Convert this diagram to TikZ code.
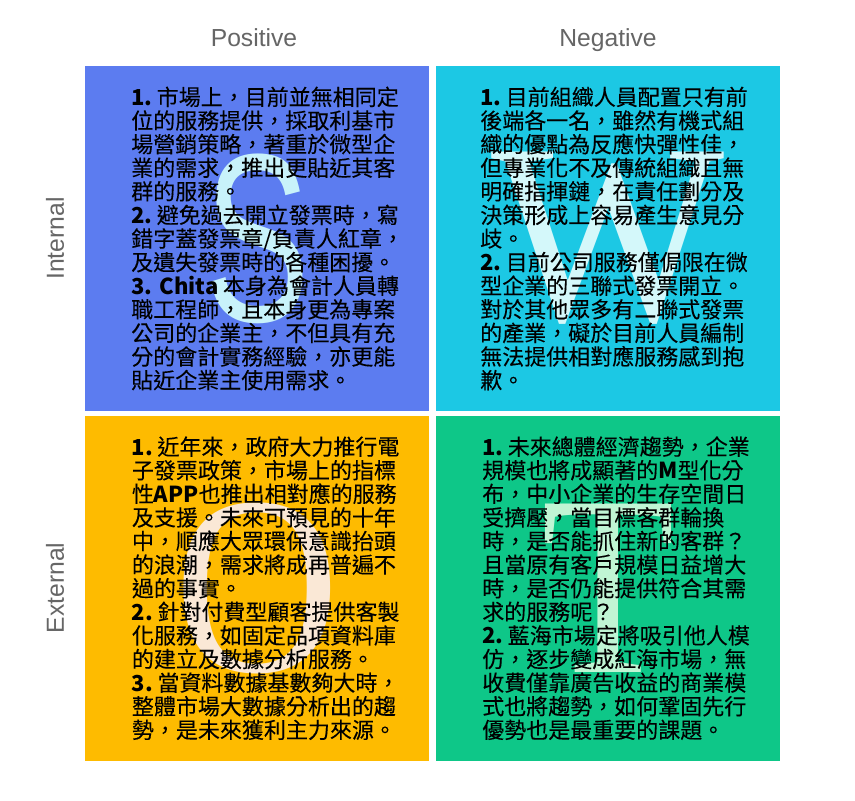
\documentclass[tikz,border=0pt]{standalone}
\usepackage{fontspec}
\setmainfont{Noto Sans CJK TC}[UprightFeatures={FakeBold=0.12}]
\newfontfamily\labfont{Liberation Sans}
\newfontfamily\bigsans{Liberation Sans}
\newfontfamily\bigserif{Liberation Serif}
\usepackage{xcolor}
\usetikzlibrary{positioning}

\definecolor{sblue}{RGB}{92,124,240}
\definecolor{wcyan}{RGB}{28,200,228}
\definecolor{oamber}{RGB}{254,187,0}
\definecolor{tgreen}{RGB}{14,199,136}
\definecolor{sletter}{RGB}{200,242,250}
\definecolor{wletter}{RGB}{212,248,250}
\definecolor{oletter}{RGB}{250,232,214}
\definecolor{tletter}{RGB}{192,245,212}
\definecolor{labgrey}{RGB}{102,102,102}

\newcommand{\itemno}[1]{\textbf{#1}\hspace{0.2em}}

\begin{document}
\begin{tikzpicture}[
		x=0.75pt,y=-0.75pt,
		node distance=5.25pt,
		quad/.style={minimum width=258pt,minimum height=258.5pt,inner sep=0pt,outer sep=0pt},
		txt/.style={anchor=west,inner sep=0pt,text width=215pt,align=left,
			font=\fontsize{16.5pt}{17.7pt}\selectfont},
		letter/.style={inner sep=0pt},
		lab/.style={font=\labfont\fontsize{18.5pt}{20pt}\selectfont,text=labgrey}
		]
		\useasboundingbox[fill=white] (0,0) rectangle (855,800);
		% quadrants
		\node[quad,fill=sblue] (sq) at (257,238.5) {};
		\node[quad,fill=wcyan,right=of sq] (wq) {};
		\node[quad,fill=oamber,below=3.75pt of sq] (oq) {};
		\node[quad,fill=tgreen,below=3.75pt of wq] (tq) {};
		% axis labels
		\node[lab,anchor=base] (pos) at (254,46) {Positive};
		\node[lab,anchor=base] (neg) at (608,46) {Negative};
		\node[lab,rotate=90] (int) at (55,238.5) {Internal};
		\node[lab,rotate=90] (ext) at (55,588) {External};
		% big letters
		\node[letter,text=sletter,font=\bigsans\fontsize{180pt}{180pt}\selectfont] (sl) at (sq) {\scalebox{0.66}[1]{S}};
		\node[letter,text=wletter,font=\bigserif\fontsize{193pt}{193pt}\selectfont] (wl) at (wq) {\scalebox{0.96}[1]{W}};
		\node[letter,text=oletter,font=\bigserif\fontsize{191pt}{191pt}\selectfont] (ol) at (oq) {\scalebox{0.9}[1]{O}};
		\node[letter,text=tletter,font=\bigserif\fontsize{193pt}{193pt}\selectfont] (tl) at (tq) {\scalebox{0.85}[1]{T}};
		% texts
		\node[txt] (stxt) at ([xshift=34.5pt]sq.west) {\itemno{1.}市場上，目前並無相同定\\
			位的服務提供，採取利基市\\
			場營銷策略，著重於微型企\\
			業的需求，推出更貼近其客\\
			群的服務。\\
			\itemno{2.}避免過去開立發票時，寫\\
			錯字蓋發票章/負責人紅章，\\
			及遺失發票時的各種困擾。\\
			\itemno{3.~Chita}本身為會計人員轉\\
			職工程師，且本身更為專案\\
			公司的企業主，不但具有充\\
			分的會計實務經驗，亦更能\\
			貼近企業主使用需求。};
		\node[txt] (wtxt) at ([xshift=33pt]wq.west) {\itemno{1.}目前組織人員配置只有前\\
			後端各一名，雖然有機式組\\
			織的優點為反應快彈性佳，\\
			但專業化不及傳統組織且無\\
			明確指揮鏈，在責任劃分及\\
			決策形成上容易產生意見分\\
			歧。\\
			\itemno{2.}目前公司服務僅侷限在微\\
			型企業的三聯式發票開立。\\
			對於其他眾多有二聯式發票\\
			的產業，礙於目前人員編制\\
			無法提供相對應服務感到抱\\
			歉。};
		\node[txt] (otxt) at ([xshift=35pt]oq.west) {\itemno{1.}近年來，政府大力推行電\\
			子發票政策，市場上的指標\\
			性\textbf{APP}也推出相對應的服務\\
			及支援。未來可預見的十年\\
			中，順應大眾環保意識抬頭\\
			的浪潮，需求將成再普遍不\\
			過的事實。\\
			\itemno{2.}針對付費型顧客提供客製\\
			化服務，如固定品項資料庫\\
			的建立及數據分析服務。\\
			\itemno{3.}當資料數據基數夠大時，\\
			整體市場大數據分析出的趨\\
			勢，是未來獲利主力來源。};
		\node[txt] (ttxt) at ([xshift=34.5pt]tq.west) {\itemno{1.}未來總體經濟趨勢，企業\\
			規模也將成顯著的\textbf{M}型化分\\
			布，中小企業的生存空間日\\
			受擠壓，當目標客群輪換\\
			時，是否能抓住新的客群？\\
			且當原有客戶規模日益增大\\
			時，是否仍能提供符合其需\\
			求的服務呢？\\
			\itemno{2.}藍海市場定將吸引他人模\\
			仿，逐步變成紅海市場，無\\
			收費僅靠廣告收益的商業模\\
			式也將趨勢，如何鞏固先行\\
			優勢也是最重要的課題。};
	\end{tikzpicture}
\end{document}
